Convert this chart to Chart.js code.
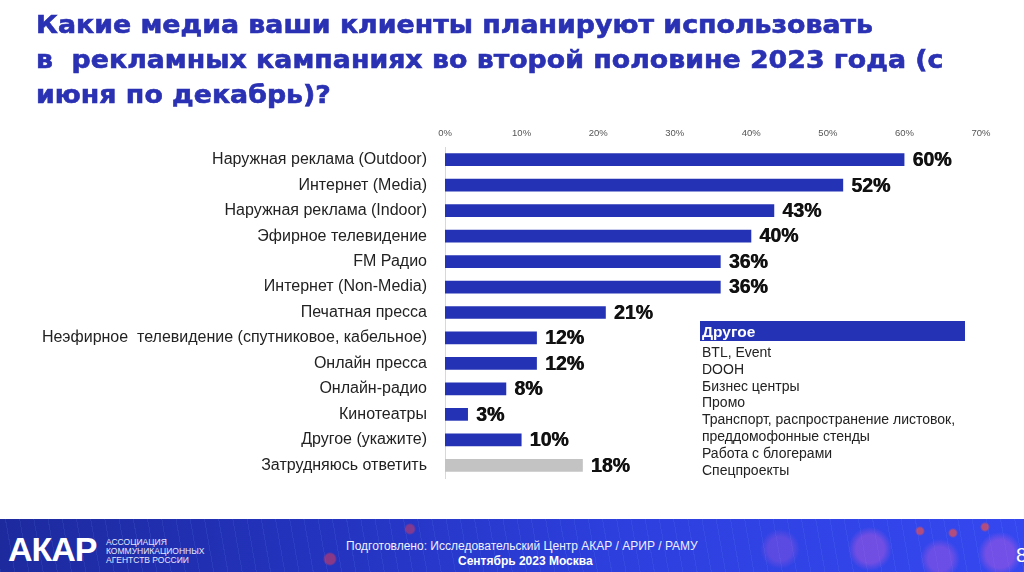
<!DOCTYPE html>
<html><head><meta charset="utf-8">
<script src="https://cdn.jsdelivr.net/npm/chart.js@4/dist/chart.umd.min.js"></script>
<style>
html,body{margin:0;padding:0;background:#fff;width:1024px;height:572px;overflow:hidden;position:relative;font-family:"Liberation Sans",Arial,sans-serif;}
#title{position:absolute;left:36px;top:0;color:#2a31b3;font-family:"DejaVu Sans",sans-serif;font-weight:bold;font-size:24px;white-space:nowrap;transform-origin:0 0;-webkit-text-stroke:0.6px #2a31b3;}
#title div{position:absolute;left:0;height:34px;line-height:34px;}
#chartWrap{position:absolute;left:0;top:0;width:1024px;height:572px;}
#other{position:absolute;left:700px;top:321px;width:265px;}
#otherHead{background:#2433b5;color:#fff;font-weight:bold;font-size:15.5px;height:20px;line-height:21px;padding-left:2px;}
#otherList{color:#222;font-size:14px;line-height:16.8px;padding-left:2px;margin-top:3px;}
#footer{position:absolute;left:0;top:519px;width:1024px;height:53px;overflow:hidden;
background:
radial-gradient(circle at 330px 40px, rgba(220,60,90,0.55) 0 5px, transparent 7px),
radial-gradient(circle at 410px 10px, rgba(220,60,90,0.5) 0 4px, transparent 6px),
radial-gradient(circle at 920px 12px, rgba(230,80,80,0.7) 0 3px, transparent 5px),
radial-gradient(circle at 953px 14px, rgba(230,80,80,0.7) 0 3px, transparent 5px),
radial-gradient(circle at 985px 8px, rgba(230,80,80,0.7) 0 3px, transparent 5px),
radial-gradient(circle at 870px 30px, rgba(190,90,220,0.45) 0 14px, transparent 22px),
radial-gradient(circle at 1000px 35px, rgba(190,90,220,0.45) 0 14px, transparent 22px),
radial-gradient(circle at 940px 40px, rgba(190,90,220,0.4) 0 12px, transparent 20px),
radial-gradient(circle at 780px 30px, rgba(170,90,220,0.35) 0 12px, transparent 20px),
repeating-linear-gradient(80deg, rgba(120,160,255,0.10) 0 1px, transparent 1px 14px),
linear-gradient(90deg,#1d2a9e 0%,#2333bd 30%,#2d3fdd 60%,#3548f0 100%);}
#footer .t{position:absolute;color:#fff;white-space:nowrap;}
</style></head>
<body>
<div id="chartWrap"><canvas id="c" width="1024" height="572"></canvas></div>
<div id="title">
<div id="t1" style="top:8px">Какие медиа ваши клиенты планируют использовать</div>
<div id="t2" style="top:43px">в&nbsp; рекламных кампаниях во второй половине 2023 года (с</div>
<div id="t3" style="top:78px">июня по декабрь)?</div>
</div>
<div id="other"><div id="otherHead"></div><div id="otherList"></div></div>
<div id="footer">
<div class="t" style="left:8px;top:14px;font-size:34px;font-weight:bold;letter-spacing:-1px;line-height:33px;">АКАР</div>
<div class="t" style="left:106px;top:19px;font-size:8.5px;line-height:9px;color:#e6e8ff;">АССОЦИАЦИЯ<br>КОММУНИКАЦИОННЫХ<br>АГЕНТСТВ РОССИИ</div>
<div class="t" style="left:346px;top:20px;font-size:12px;line-height:14px;color:#f0f0ff;">Подготовлено: Исследовательский Центр АКАР / АРИР / РАМУ</div>
<div class="t" style="left:458px;top:35px;font-size:12px;font-weight:bold;line-height:14px;">Сентябрь 2023 Москва</div>
<div class="t" style="left:1016px;top:26px;font-size:20px;line-height:20px;">8</div>
</div>
<script>
const categories = [
  "Наружная реклама (Outdoor)",
  "Интернет (Media)",
  "Наружная реклама (Indoor)",
  "Эфирное телевидение",
  "FM Радио",
  "Интернет (Non-Media)",
  "Печатная пресса",
  "Неэфирное  телевидение (спутниковое, кабельное)",
  "Онлайн пресса",
  "Онлайн-радио",
  "Кинотеатры",
  "Другое (укажите)",
  "Затрудняюсь ответить"
];
const values = [60, 52, 43, 40, 36, 36, 21, 12, 12, 8, 3, 10, 18];
const axisTicks = [0, 10, 20, 30, 40, 50, 60, 70];
const otherTitle = "Другое";
const otherItems = [
  "BTL, Event",
  "DOOH",
  "Бизнес центры",
  "Промо",
  "Транспорт, распространение листовок,",
  "преддомофонные стенды",
  "Работа с блогерами",
  "Спецпроекты"
];

document.getElementById('otherHead').textContent = otherTitle;
document.getElementById('otherList').innerHTML = otherItems.map(s => '<div>' + s + '</div>').join('');

// fit title line 1 width by horizontal scaling
(function(){
  const t1 = document.getElementById('t1');
  const w = t1.getBoundingClientRect().width;
  const k = 837 / w;
  document.getElementById('title').style.transform = 'scaleX(' + k + ')';
})();

const BLUE = '#2433b5', GREY = '#c3c3c3';
const colors = categories.map((c, i) => i === categories.length - 1 ? GREY : BLUE);

const valueLabels = {
  id: 'valueLabels',
  afterDatasetsDraw(chart) {
    const ctx = chart.ctx;
    const meta = chart.getDatasetMeta(0);
    ctx.save();
    ctx.font = 'bold 19.5px "Liberation Sans", Arial, sans-serif';
    ctx.fillStyle = '#111';
    ctx.textBaseline = 'middle';
    ctx.textAlign = 'left';
    meta.data.forEach((bar, i) => {
      const t = values[i] + '%';
      ctx.fillText(t, bar.x + 8, bar.y + 1);
      ctx.fillText(t, bar.x + 8.6, bar.y + 1);
    });
    ctx.restore();
  }
};

new Chart(document.getElementById('c'), {
  type: 'bar',
  data: {
    labels: categories,
    datasets: [{ data: values, backgroundColor: colors, borderWidth: 0,
      barPercentage: 0.5, categoryPercentage: 1 }]
  },
  options: {
    indexAxis: 'y',
    responsive: false,
    animation: false,
    devicePixelRatio: 1,
    layout: { padding: { top: 120, right: 43, bottom: 94, left: 0 } },
    plugins: { legend: { display: false }, tooltip: { enabled: false } },
    scales: {
      x: {
        position: 'top', min: 0, max: 70,
        afterBuildTicks(s) { s.ticks = axisTicks.map(v => ({ value: v })); },
        ticks: { callback: v => v + '%', color: '#555', font: { size: 9.5, family: '"Liberation Sans Narrow","Liberation Sans",sans-serif' }, padding: 8, maxRotation: 0 },
        grid: { display: false, drawTicks: false },
        border: { display: false },
        afterFit(s) { s.height = 27; }
      },
      y: {
        ticks: { color: '#222', font: { size: 16, family: '"Liberation Sans",Arial,sans-serif' }, padding: 18, autoSkip: false },
        grid: { display: false, drawTicks: false },
        border: { display: true, color: '#d8d8d8', width: 1 },
        afterFit(s) { s.width = 445; }
      }
    }
  },
  plugins: [valueLabels]
});
</script>
</body></html>
